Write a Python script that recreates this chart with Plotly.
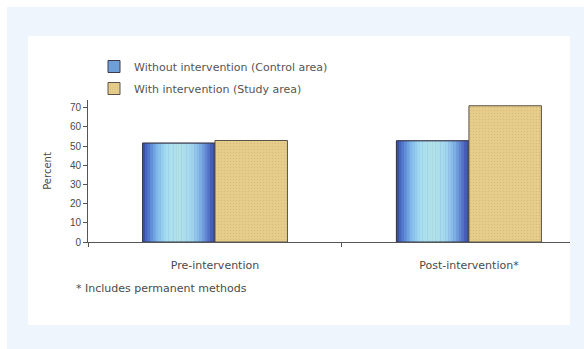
import plotly.graph_objects as go

categories = ["Pre-intervention", "Post-intervention*"]
control_area = [51.5, 52.7]
study_area = [52.9, 71.0]
series_names = ["Without intervention (Control area)", "With intervention (Study area)"]
y_ticks = [0, 10, 20, 30, 40, 50, 60, 70]
footnote = "* Includes permanent methods"

W, H = 584, 349
L, R, T, B = 88, 14, 100, 107
pw, ph = W - L - R, H - T - B


def px_x(x):
    return (x - L) / pw


def px_y(y):
    return (H - B - y) / ph


FONT = "DejaVu Sans, Liberation Sans, sans-serif"
TXT = "#4a4a4a"
BW = 0.2854  # bar width in category units

# horizontal gradient for the control bars (dark edges, pale cyan middle)
stops = [(0.0, (52, 70, 158)), (0.08, (79, 116, 204)), (0.2, (127, 184, 234)),
         (0.32, (166, 221, 242)), (0.5, (179, 227, 230)), (0.68, (163, 216, 238)),
         (0.82, (120, 168, 226)), (0.93, (76, 102, 192)), (1.0, (52, 68, 154))]


def grad(t):
    for (t0, c0), (t1, c1) in zip(stops, stops[1:]):
        if t0 <= t <= t1:
            f = (t - t0) / (t1 - t0)
            return "rgb(%d,%d,%d)" % tuple(round(a + (b - a) * f) for a, b in zip(c0, c1))
    return "rgb(52,68,154)"


fig = go.Figure()

fig.add_trace(go.Bar(
    x=categories, y=control_area, name=series_names[0],
    offset=-BW, width=BW, legendgroup="a",
    marker=dict(color="#6f9fd8", line=dict(color="#3c3c50", width=1)),
))

n = 28
sw = BW / n
for i in range(n):
    fig.add_trace(go.Bar(
        x=categories, y=control_area, offset=-BW + i * sw, width=sw * 1.05,
        marker=dict(color=grad((i + 0.5) / n), line=dict(width=0)),
        showlegend=False, hoverinfo="skip",
    ))

fig.add_trace(go.Bar(
    x=categories, y=control_area, offset=-BW, width=BW,
    marker=dict(color="rgba(0,0,0,0)", line=dict(color="#3c3c50", width=1)),
    showlegend=False, hoverinfo="skip",
))

fig.add_trace(go.Bar(
    x=categories, y=study_area, name=series_names[1],
    offset=0, width=BW, legendgroup="b",
    marker=dict(color="#e3c987", line=dict(color="#5a5248", width=1),
                pattern=dict(shape=".", fgcolor="#cdae6a", bgcolor="#e6cd8c",
                             size=3, solidity=0.2)),
))

fig.update_layout(
    width=W, height=H,
    margin=dict(l=L, r=R, t=T, b=B),
    paper_bgcolor="white", plot_bgcolor="rgba(0,0,0,0)",
    barmode="overlay",
    font=dict(family=FONT, size=10, color=TXT),
    showlegend=True,
    legend=dict(x=px_x(94), y=px_y(52), xanchor="left", yanchor="top",
                bgcolor="rgba(0,0,0,0)", font=dict(size=11, color="#555"),
                traceorder="grouped", tracegroupgap=3, itemwidth=30),
    xaxis=dict(
        type="category", range=[-0.5, 1.398],
        showline=True, linecolor="#555", linewidth=1,
        ticks="outside", tickson="boundaries", ticklen=4, tickcolor="#555",
        showgrid=False, zeroline=False, ticklabelstandoff=13,
        tickfont=dict(size=11, color=TXT),
    ),
    yaxis=dict(
        range=[0, 74], tickvals=y_ticks,
        showline=True, linecolor="#555", linewidth=1,
        ticks="outside", ticklen=4, tickcolor="#555",
        showgrid=False, zeroline=False,
        tickfont=dict(family="Liberation Sans, Arial, sans-serif", size=10, color=TXT),
        title=dict(text="Percent", standoff=16, font=dict(size=10, color=TXT)),
    ),
    shapes=[
        dict(type="rect", xref="paper", yref="paper", layer="below",
             x0=px_x(7), x1=px_x(W), y0=px_y(7), y1=px_y(H),
             fillcolor="#eef5fc", line=dict(width=0)),
        dict(type="rect", xref="paper", yref="paper", layer="below",
             x0=px_x(28), x1=px_x(570), y0=px_y(36), y1=px_y(325),
             fillcolor="white", line=dict(width=0)),
    ],
    annotations=[
        dict(text=footnote, xref="paper", yref="paper", x=px_x(74), y=px_y(288),
             xanchor="left", yanchor="middle", showarrow=False,
             font=dict(size=11, color=TXT)),
    ],
)

# page has a default 8px body margin; drop it so the chart sits at the corner
fig.write_html("out.html", config={"displayModeBar": False},
               post_script="document.body.style.margin='0';")
